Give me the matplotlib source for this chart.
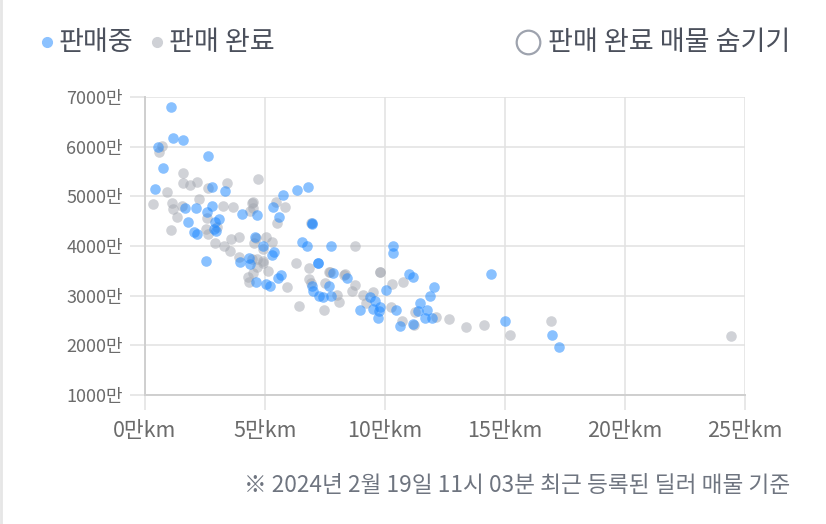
import matplotlib
matplotlib.use("Agg")
import matplotlib.pyplot as plt
from matplotlib.lines import Line2D

plt.rcParams["font.family"] = ["Noto Sans CJK KR", "DejaVu Sans"]

# mileage in 만km, price in 만원
on_sale_km = [1.09, 1.17, 1.59, 0.54, 2.63, 0.75, 0.42, 2.80, 3.34, 1.67,
              2.13, 2.80, 2.59, 1.80, 3.09, 2.92, 2.88, 2.96, 2.05, 2.17,
              4.05, 4.68, 5.34, 5.59, 5.76, 6.35, 6.81, 6.97, 4.59, 4.93,
              6.56, 6.76, 7.77, 10.35, 10.35, 2.55, 3.97, 4.34, 4.38, 5.30,
              5.39, 7.22, 4.63, 5.05, 5.22, 5.68, 5.55, 6.97, 7.01, 7.27,
              7.43, 7.68, 7.77, 7.85, 8.43, 8.94, 9.39, 9.60, 9.81, 9.73,
              9.48, 9.69, 10.06, 10.44, 10.61, 10.98, 11.15, 12.03, 11.86, 11.44,
              11.36, 11.77, 11.65, 11.94, 11.15, 14.41, 14.99, 16.95, 17.24,
              6.97, 7.22]
on_sale_price = [6800, 6180, 6140, 6000, 5815, 5575, 5155, 5195, 5110, 4770,
                 4770, 4810, 4690, 4490, 4550, 4490, 4350, 4310, 4290, 4250,
                 4650, 4630, 4790, 4590, 5030, 5135, 5195, 4450, 4190, 3990,
                 4090, 3990, 3990, 3990, 3850, 3690, 3670, 3750, 3630, 3810,
                 3870, 3650, 3285, 3225, 3185, 3425, 3365, 3185, 3085, 2985,
                 2965, 3185, 2985, 3465, 3365, 2705, 2965, 2885, 2765, 2685,
                 2725, 2560, 3105, 2705, 2380, 3445, 3385, 3165, 2985, 2845,
                 2685, 2705, 2560, 2560, 2420, 3445, 2480, 2200, 1960,
                 4470, 3650]

sold_km = [0.71, 0.58, 1.59, 1.59, 1.88, 2.17, 2.63, 3.42, 4.72, 0.92,
           0.33, 1.13, 1.17, 1.34, 1.54, 2.25, 3.26, 3.67, 4.47, 4.51,
           4.38, 4.51, 5.47, 5.85, 5.51, 1.09, 2.59, 2.55, 2.63, 3.01,
           2.92, 3.30, 3.59, 3.55, 3.92, 4.55, 4.63, 5.05, 4.93, 5.30,
           3.92, 4.47, 4.68, 4.93, 6.93, 8.77, 6.30, 6.85, 7.68, 8.35,
           9.81, 9.81, 4.30, 4.34, 4.51, 4.68, 4.93, 5.14, 5.93, 6.43,
           6.85, 6.93, 7.52, 7.72, 8.02, 8.10, 7.47, 8.31, 8.64, 8.77,
           9.10, 9.19, 9.52, 10.23, 10.31, 10.77, 10.69, 11.27, 11.19, 12.11,
           12.65, 13.36, 14.11, 15.20, 16.91, 24.43]
sold_price = [6015, 5895, 5475, 5275, 5235, 5295, 5175, 5275, 5355, 5090,
              4850, 4870, 4750, 4590, 4810, 4950, 4810, 4790, 4870, 4890,
              4710, 4770, 4890, 4790, 4470, 4330, 4570, 4350, 4250, 4390,
              4070, 3990, 4150, 3890, 4190, 4070, 4170, 4190, 3930, 4090,
              3770, 3730, 3730, 3690, 4470, 3990, 3650, 3565, 3485, 3445,
              3485, 3485, 3385, 3285, 3465, 3585, 3665, 3505, 3165, 2785,
              3345, 3265, 3265, 3485, 3005, 2865, 2705, 3425, 3085, 3205,
              3005, 2845, 3065, 2765, 3225, 3285, 2500, 2665, 2400, 2580,
              2540, 2360, 2400, 2200, 2500, 2180]

x_ticks = [0, 5, 10, 15, 20, 25]
y_ticks = [1000, 2000, 3000, 4000, 5000, 6000, 7000]

C_BLUE = "#1e88ff"
C_GRAY = "#a3a7b0"
C_GRID = "#e2e2e2"
C_AXIS = "#cfcfcf"
C_TICKLBL = "#6b6b6b"
C_TEXT = "#4b505c"

fig = plt.figure(figsize=(8.26, 5.24), dpi=100)
fig.patch.set_facecolor("white")
ax = fig.add_axes([145 / 826, 1 - 395 / 524, 600 / 826, 298 / 524])

ax.scatter(sold_km, sold_price, s=58, color=C_GRAY, alpha=0.5, lw=0, zorder=3)
ax.scatter(on_sale_km, on_sale_price, s=58, color=C_BLUE, alpha=0.52, lw=0, zorder=4)

ax.set_xlim(0, 25)
ax.set_ylim(1000, 7000)
ax.set_xticks(x_ticks)
ax.set_yticks(y_ticks)
ax.set_xticklabels([f"{v}만km" for v in x_ticks])
ax.set_yticklabels([f"{v}만" for v in y_ticks])
ax.grid(True, color=C_GRID, lw=1.1, zorder=0)
ax.set_axisbelow(True)
for s in ["top", "right"]:
    ax.spines[s].set_visible(False)
for s in ["left", "bottom"]:
    ax.spines[s].set_color(C_AXIS)
    ax.spines[s].set_linewidth(1.4)
ax.tick_params(axis="both", color=C_GRID, width=1.1, length=11, labelcolor=C_TICKLBL)
ax.tick_params(axis="y", pad=5, labelsize=13)
ax.tick_params(axis="x", pad=7, labelsize=15.5)

# legend row
fig.add_artist(Line2D([47 / 826], [1 - 42 / 524], marker="o", ms=7, color="#8cc2ff",
                      lw=0, transform=fig.transFigure))
fig.text(59 / 826, 1 - 42 / 524, "판매중", fontsize=19.5, color=C_TEXT, va="center")
fig.add_artist(Line2D([157 / 826], [1 - 42 / 524], marker="o", ms=7, color="#cfd1d6",
                      lw=0, transform=fig.transFigure))
fig.text(169 / 826, 1 - 42 / 524, "판매 완료", fontsize=19.5, color=C_TEXT, va="center")
fig.add_artist(Line2D([528 / 826], [1 - 42 / 524], marker="o", ms=17, mfc="white",
                      mec="#9ea3ae", mew=1.6, lw=0, transform=fig.transFigure))
fig.text(790 / 826, 1 - 42 / 524, "판매 완료 매물 숨기기", fontsize=19.5, color=C_TEXT,
         va="center", ha="right")

fig.text(790 / 826, 1 - 485 / 524, "※ 2024년 2월 19일 11시 03분 최근 등록된 딜러 매물 기준",
         fontsize=16.3, color="#6f7580", va="center", ha="right")

# thin left border of the card
fig.add_artist(Line2D([0.001, 0.001], [0, 1], color="#e6e6e6", lw=2,
                      transform=fig.transFigure))

fig.savefig("out.png", dpi=100)
